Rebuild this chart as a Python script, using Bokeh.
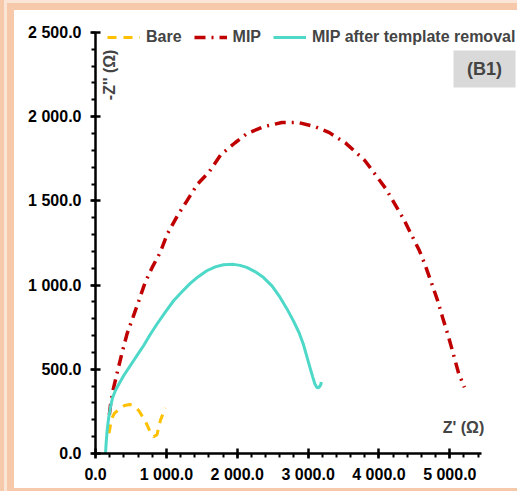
from math import pi
from bokeh.plotting import figure
from bokeh.models import Range1d, FixedTicker, Legend, LegendItem, Label, BoxAnnotation
from bokeh.embed import file_html
from bokeh.resources import INLINE

# ---- data (Z' in ohm, -Z'' in ohm) ----
bare_x = [190, 202, 225, 270, 342, 410, 483, 550, 610, 703, 774, 821, 868, 915, 985]
bare_y = [120, 146, 206, 240, 265, 285, 291, 280, 255, 192, 127, 100, 112, 196, 271]

mip_x = [195, 215, 250, 300, 370, 445, 530, 610, 700, 800, 915, 1010, 1160, 1290, 1440,
         1600, 1770, 1970, 2140, 2370, 2630, 2860, 3100, 3300, 3530, 3800, 4100, 4350,
         4570, 4650, 4740, 4830, 4900, 4980, 5050, 5125, 5190, 5205]
mip_y = [230, 300, 380, 470, 590, 710, 810, 905, 1015, 1105, 1195, 1300, 1415, 1500, 1600,
         1670, 1775, 1845, 1900, 1940, 1965, 1965, 1940, 1905, 1843, 1740, 1570, 1390,
         1205, 1120, 1015, 905, 805, 695, 590, 475, 410, 393]

rem_x = [141, 150, 164, 185, 211, 240, 281, 340, 399, 470, 539, 610, 680, 770, 868, 985,
         1102, 1220, 1337, 1450, 1571, 1690, 1806, 1946, 2040, 2134, 2250, 2368, 2490,
         2603, 2700, 2791, 2870, 2932, 2980, 3025, 3065, 3096, 3125, 3142, 3162, 3180, 3186]
rem_y = [0, 60, 136, 210, 275, 330, 374, 420, 463, 508, 552, 597, 641, 705, 769, 840,
         907, 960, 1010, 1050, 1085, 1108, 1121, 1123, 1117, 1105, 1080, 1046, 995,
         928, 860, 789, 720, 650, 580, 512, 455, 413, 392, 389, 397, 410, 425]

x_ticks = [0, 1000, 2000, 3000, 4000, 5000]
x_tick_labels = ["0.0", "1 000.0", "2 000.0", "3 000.0", "4 000.0", "5 000.0"]
x_minor = list(range(0, 5401, 200))
y_ticks = [0, 500, 1000, 1500, 2000, 2500]
y_tick_labels = ["0.0", "500.0", "1 000.0", "1 500.0", "2 000.0", "2 500.0"]
y_minor = list(range(0, 2501, 100))

series_labels = ["Bare", "MIP", "MIP after template removal"]

FONT = "Liberation Sans"

p = figure(width=503, height=478, output_backend="svg", toolbar_location=None,
           x_range=Range1d(0, 5955), y_range=Range1d(0, 2559),
           min_border_left=81, min_border_right=0, min_border_top=12, min_border_bottom=35)
p.margin = (10, 0, 0, 14)
p.styles = {"box-shadow": "0 0 0 7px #f6c9aa, 0 0 0 10px #fbe5d6, 0 0 0 14px #f6c9aa"}
p.outline_line_color = None
p.grid.visible = False
p.background_fill_color = "white"
p.border_fill_color = "white"

r_bare = p.line(bare_x, bare_y, line_color="#ffc000", line_width=3, line_dash="9 7")
r_mip = p.line(mip_x, mip_y, line_color="#c00000", line_width=3.5, line_dash="11 6 2 6")
r_rem = p.line(rem_x, rem_y, line_color="#4dd8c8", line_width=3)

for ax, ticks, labels, minor, bnd, standoff in (
        (p.xaxis[0], x_ticks, x_tick_labels, x_minor, (0, 5450), 7),
        (p.yaxis[0], y_ticks, y_tick_labels, y_minor, (0, 2500), 9)):
    ax.ticker = FixedTicker(ticks=ticks, minor_ticks=minor)
    ax.major_label_overrides = {t: l for t, l in zip(ticks, labels)}
    ax.bounds = bnd
    ax.axis_line_width = 2.5
    ax.axis_line_color = "black"
    ax.major_tick_line_width = 2.5
    ax.major_tick_in = 5
    ax.major_tick_out = 5
    ax.minor_tick_line_width = 2
    ax.minor_tick_in = 0
    ax.minor_tick_out = 4
    ax.major_label_text_font = FONT
    ax.major_label_text_font_style = "bold"
    ax.major_label_text_font_size = "16px"
    ax.major_label_text_color = "black"
    ax.major_label_standoff = standoff

legend = Legend(items=[LegendItem(label=series_labels[0], renderers=[r_bare]),
                       LegendItem(label=series_labels[1], renderers=[r_mip]),
                       LegendItem(label=series_labels[2], renderers=[r_rem])],
                orientation="horizontal", location=(12, 406),
                label_text_font=FONT, label_text_font_style="bold",
                label_text_font_size="16px", glyph_width=33, glyph_height=20,
                label_height=20, label_standoff=6, spacing=12, padding=0, margin=0,
                border_line_alpha=0, background_fill_alpha=0)
p.add_layout(legend)

p.add_layout(Label(x=5193, y=157, text="Z' (Ω)", text_align="center", text_baseline="middle",
                   text_font=FONT, text_font_style="bold", text_font_size="16px"))
p.add_layout(Label(x=198, y=2248, text="-Z'' (Ω)", angle=pi / 2, text_align="center",
                   text_baseline="middle", text_font=FONT, text_font_style="bold",
                   text_font_size="16px"))
p.add_layout(BoxAnnotation(left=5052, right=5927, bottom=2173, top=2393,
                           fill_color="#d9d9d9", fill_alpha=1, line_alpha=0))
p.add_layout(Label(x=5490, y=2283, text="(B1)", text_align="center", text_baseline="middle",
                   text_font=FONT, text_font_style="bold", text_font_size="18px"))

open("out.html", "w").write(file_html(p, INLINE))
